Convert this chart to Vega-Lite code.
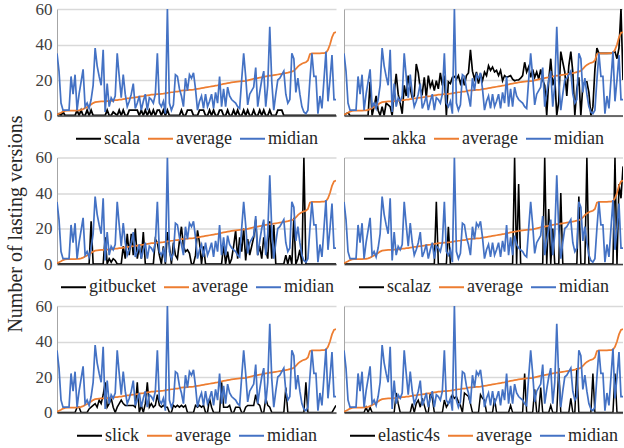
{
"$schema":"https://vega.github.io/schema/vega-lite/v6.json",
"padding":{"left":4,"top":0,"right":0,"bottom":0},
"background":"#ffffff",
"datasets":{"d":[
{"i":0,"average":0.5,"midian":35,"scala":0,"akka":0,"gitbucket":0,"scalaz":0,"slick":0,"elastic4s":0},
{"i":1,"average":1,"midian":25,"scala":1,"akka":1,"gitbucket":0,"scalaz":0,"slick":0,"elastic4s":0},
{"i":2,"average":1.5,"midian":7,"scala":0,"akka":1.5,"gitbucket":0,"scalaz":0,"slick":0,"elastic4s":0},
{"i":3,"average":2.2,"midian":3,"scala":2,"akka":0,"gitbucket":0,"scalaz":0,"slick":0,"elastic4s":0},
{"i":4,"average":2.6,"midian":3,"scala":0,"akka":0,"gitbucket":0,"scalaz":0,"slick":0,"elastic4s":0},
{"i":5,"average":2.7,"midian":3,"scala":0,"akka":0,"gitbucket":0,"scalaz":0,"slick":0,"elastic4s":0},
{"i":6,"average":2.7,"midian":3,"scala":0,"akka":0,"gitbucket":0,"scalaz":0,"slick":0,"elastic4s":0},
{"i":7,"average":2.8,"midian":22,"scala":0,"akka":0,"gitbucket":0,"scalaz":0,"slick":0,"elastic4s":0},
{"i":8,"average":2.8,"midian":12,"scala":0,"akka":0,"gitbucket":0,"scalaz":0,"slick":0,"elastic4s":0},
{"i":9,"average":2.8,"midian":23,"scala":0,"akka":0,"gitbucket":0,"scalaz":0,"slick":0,"elastic4s":0},
{"i":10,"average":2.9,"midian":3,"scala":3,"akka":0,"gitbucket":0,"scalaz":0,"slick":3,"elastic4s":0},
{"i":11,"average":2.9,"midian":12,"scala":0,"akka":0,"gitbucket":0,"scalaz":0,"slick":3,"elastic4s":3},
{"i":12,"average":3.2,"midian":19,"scala":3,"akka":0,"gitbucket":0,"scalaz":0,"slick":0,"elastic4s":0},
{"i":13,"average":3.6,"midian":26,"scala":0,"akka":19,"gitbucket":0,"scalaz":0,"slick":0,"elastic4s":3},
{"i":14,"average":4.2,"midian":5,"scala":0,"akka":0,"gitbucket":0,"scalaz":0,"slick":0,"elastic4s":0},
{"i":15,"average":4.8,"midian":7,"scala":3,"akka":5,"gitbucket":0,"scalaz":0,"slick":0,"elastic4s":0},
{"i":16,"average":5.5,"midian":4,"scala":0,"akka":11,"gitbucket":0,"scalaz":0,"slick":2,"elastic4s":0},
{"i":17,"average":6.2,"midian":9,"scala":3,"akka":3,"gitbucket":24,"scalaz":0,"slick":3,"elastic4s":0},
{"i":18,"average":7,"midian":17,"scala":0,"akka":0,"gitbucket":0,"scalaz":0,"slick":4,"elastic4s":0},
{"i":19,"average":7.5,"midian":38,"scala":0,"akka":5,"gitbucket":0,"scalaz":0,"slick":5,"elastic4s":0},
{"i":20,"average":7.7,"midian":28,"scala":0,"akka":0,"gitbucket":0,"scalaz":0,"slick":3,"elastic4s":0},
{"i":21,"average":7.8,"midian":22,"scala":0,"akka":7,"gitbucket":0,"scalaz":0,"slick":7,"elastic4s":0},
{"i":22,"average":7.9,"midian":17,"scala":0,"akka":6,"gitbucket":0,"scalaz":0,"slick":5,"elastic4s":0},
{"i":23,"average":8,"midian":37,"scala":0,"akka":5,"gitbucket":0,"scalaz":0,"slick":10,"elastic4s":0},
{"i":24,"average":8,"midian":2,"scala":0,"akka":0,"gitbucket":15,"scalaz":0,"slick":17,"elastic4s":0},
{"i":25,"average":8.1,"midian":18,"scala":3,"akka":13,"gitbucket":0,"scalaz":0,"slick":3,"elastic4s":0},
{"i":26,"average":8.2,"midian":5,"scala":0,"akka":23.5,"gitbucket":3,"scalaz":0,"slick":5,"elastic4s":11},
{"i":27,"average":8.3,"midian":10,"scala":0,"akka":12,"gitbucket":1,"scalaz":0,"slick":8,"elastic4s":5},
{"i":28,"average":8.4,"midian":8,"scala":2,"akka":7,"gitbucket":3,"scalaz":0,"slick":3,"elastic4s":0},
{"i":29,"average":8.6,"midian":11,"scala":1,"akka":1,"gitbucket":2,"scalaz":0,"slick":0,"elastic4s":0},
{"i":30,"average":8.7,"midian":35,"scala":0,"akka":17,"gitbucket":0,"scalaz":0,"slick":3,"elastic4s":0},
{"i":31,"average":8.9,"midian":22,"scala":3,"akka":11,"gitbucket":0,"scalaz":0,"slick":5,"elastic4s":0},
{"i":32,"average":9,"midian":10,"scala":0,"akka":22.5,"gitbucket":0,"scalaz":0,"slick":7,"elastic4s":0},
{"i":33,"average":9.2,"midian":23,"scala":3,"akka":15,"gitbucket":10,"scalaz":0,"slick":5,"elastic4s":0},
{"i":34,"average":9.4,"midian":12,"scala":0,"akka":10,"gitbucket":3,"scalaz":0,"slick":4,"elastic4s":5},
{"i":35,"average":9.6,"midian":5,"scala":0,"akka":11,"gitbucket":17,"scalaz":0,"slick":4,"elastic4s":0},
{"i":36,"average":9.7,"midian":8,"scala":3,"akka":29,"gitbucket":5,"scalaz":0,"slick":4,"elastic4s":5},
{"i":37,"average":9.9,"midian":12,"scala":3,"akka":24,"gitbucket":17,"scalaz":0,"slick":4,"elastic4s":7},
{"i":38,"average":10,"midian":18,"scala":3,"akka":15,"gitbucket":5,"scalaz":0,"slick":4,"elastic4s":3},
{"i":39,"average":10.2,"midian":4,"scala":3,"akka":12.5,"gitbucket":20,"scalaz":0,"slick":3,"elastic4s":8},
{"i":40,"average":10.4,"midian":7,"scala":3,"akka":21.5,"gitbucket":3,"scalaz":0,"slick":17,"elastic4s":4},
{"i":41,"average":10.6,"midian":11,"scala":0,"akka":10,"gitbucket":10,"scalaz":0,"slick":0,"elastic4s":0},
{"i":42,"average":10.8,"midian":3,"scala":3,"akka":22.5,"gitbucket":3,"scalaz":0,"slick":4,"elastic4s":0},
{"i":43,"average":10.9,"midian":8,"scala":0,"akka":16,"gitbucket":18,"scalaz":0,"slick":0,"elastic4s":11},
{"i":44,"average":11.1,"midian":12,"scala":3,"akka":19,"gitbucket":0,"scalaz":0,"slick":5,"elastic4s":8},
{"i":45,"average":11.3,"midian":3,"scala":0,"akka":14,"gitbucket":0,"scalaz":0,"slick":17,"elastic4s":0},
{"i":46,"average":11.5,"midian":10,"scala":3,"akka":19.6,"gitbucket":0,"scalaz":35,"slick":3,"elastic4s":0},
{"i":47,"average":11.7,"midian":9,"scala":0,"akka":15,"gitbucket":0,"scalaz":0,"slick":5,"elastic4s":0},
{"i":48,"average":11.8,"midian":7,"scala":3,"akka":24,"gitbucket":0,"scalaz":0,"slick":3,"elastic4s":0},
{"i":49,"average":11.9,"midian":12,"scala":0,"akka":17,"gitbucket":14,"scalaz":0,"slick":4,"elastic4s":0},
{"i":50,"average":12,"midian":35,"scala":3,"akka":22.5,"gitbucket":12,"scalaz":0,"slick":10,"elastic4s":7},
{"i":51,"average":12.1,"midian":7,"scala":3,"akka":0,"gitbucket":5,"scalaz":0,"slick":4,"elastic4s":3},
{"i":52,"average":12.2,"midian":5,"scala":0,"akka":19,"gitbucket":0,"scalaz":21,"slick":3,"elastic4s":5},
{"i":53,"average":12.3,"midian":8,"scala":3,"akka":18,"gitbucket":10,"scalaz":0,"slick":4,"elastic4s":7},
{"i":54,"average":12.5,"midian":1,"scala":0,"akka":21.5,"gitbucket":0,"scalaz":0,"slick":3,"elastic4s":10},
{"i":55,"average":12.7,"midian":60,"scala":3,"akka":22,"gitbucket":18,"scalaz":0,"slick":3,"elastic4s":8},
{"i":56,"average":12.9,"midian":7,"scala":0,"akka":20.5,"gitbucket":10,"scalaz":0,"slick":0,"elastic4s":9},
{"i":57,"average":13.1,"midian":3,"scala":0,"akka":22.5,"gitbucket":0,"scalaz":0,"slick":0,"elastic4s":6},
{"i":58,"average":13.2,"midian":6,"scala":0,"akka":18,"gitbucket":12,"scalaz":0,"slick":4,"elastic4s":4},
{"i":59,"average":13.4,"midian":23,"scala":0,"akka":21.5,"gitbucket":5,"scalaz":0,"slick":3,"elastic4s":0},
{"i":60,"average":13.5,"midian":22,"scala":0,"akka":17,"gitbucket":3,"scalaz":0,"slick":4,"elastic4s":11},
{"i":61,"average":13.7,"midian":15,"scala":0,"akka":22.5,"gitbucket":13,"scalaz":0,"slick":3,"elastic4s":10},
{"i":62,"average":14,"midian":11,"scala":3,"akka":24,"gitbucket":21,"scalaz":0,"slick":4,"elastic4s":9},
{"i":63,"average":14.1,"midian":5,"scala":0,"akka":37,"gitbucket":10,"scalaz":0,"slick":3,"elastic4s":5},
{"i":64,"average":14.2,"midian":21,"scala":0,"akka":25,"gitbucket":7,"scalaz":0,"slick":4,"elastic4s":0},
{"i":65,"average":14.3,"midian":14,"scala":3,"akka":20.5,"gitbucket":8,"scalaz":0,"slick":0,"elastic4s":0},
{"i":66,"average":14.4,"midian":23,"scala":3,"akka":24.5,"gitbucket":6,"scalaz":0,"slick":0,"elastic4s":0},
{"i":67,"average":14.5,"midian":21,"scala":3,"akka":18,"gitbucket":0,"scalaz":0,"slick":0,"elastic4s":0},
{"i":68,"average":14.6,"midian":24,"scala":0,"akka":23.5,"gitbucket":0,"scalaz":0,"slick":0,"elastic4s":10},
{"i":69,"average":14.8,"midian":15,"scala":0,"akka":19.6,"gitbucket":5,"scalaz":0,"slick":4,"elastic4s":8},
{"i":70,"average":15,"midian":3,"scala":0,"akka":24.5,"gitbucket":19,"scalaz":0,"slick":3,"elastic4s":7},
{"i":71,"average":15.2,"midian":8,"scala":3,"akka":22.5,"gitbucket":12,"scalaz":0,"slick":4,"elastic4s":0},
{"i":72,"average":15.4,"midian":11,"scala":3,"akka":28,"gitbucket":0,"scalaz":0,"slick":3,"elastic4s":0},
{"i":73,"average":15.6,"midian":4,"scala":3,"akka":25.4,"gitbucket":10,"scalaz":0,"slick":4,"elastic4s":0},
{"i":74,"average":15.8,"midian":12,"scala":0,"akka":27.3,"gitbucket":0,"scalaz":0,"slick":0,"elastic4s":0},
{"i":75,"average":16,"midian":5,"scala":0,"akka":24.5,"gitbucket":0,"scalaz":0,"slick":0,"elastic4s":8},
{"i":76,"average":16.2,"midian":8,"scala":3,"akka":25.4,"gitbucket":0,"scalaz":0,"slick":8,"elastic4s":0},
{"i":77,"average":16.4,"midian":12,"scala":0,"akka":22.5,"gitbucket":0,"scalaz":0,"slick":3,"elastic4s":0},
{"i":78,"average":16.6,"midian":4,"scala":3,"akka":25.4,"gitbucket":0,"scalaz":0,"slick":0,"elastic4s":0},
{"i":79,"average":16.8,"midian":13,"scala":0,"akka":19.6,"gitbucket":0,"scalaz":0,"slick":0,"elastic4s":0},
{"i":80,"average":17,"midian":7,"scala":0,"akka":22.5,"gitbucket":0,"scalaz":0,"slick":0,"elastic4s":0},
{"i":81,"average":17.3,"midian":22,"scala":3,"akka":21.5,"gitbucket":0,"scalaz":0,"slick":0,"elastic4s":0},
{"i":82,"average":17.5,"midian":5,"scala":3,"akka":22,"gitbucket":0,"scalaz":0,"slick":17,"elastic4s":0},
{"i":83,"average":17.8,"midian":15,"scala":0,"akka":22.5,"gitbucket":11,"scalaz":0,"slick":3,"elastic4s":4},
{"i":84,"average":18,"midian":5,"scala":0,"akka":20.5,"gitbucket":0,"scalaz":0,"slick":3,"elastic4s":0},
{"i":85,"average":18.2,"midian":16,"scala":3,"akka":19.6,"gitbucket":7,"scalaz":60,"slick":3,"elastic4s":0},
{"i":86,"average":18.4,"midian":11,"scala":0,"akka":20,"gitbucket":0,"scalaz":0,"slick":4,"elastic4s":0},
{"i":87,"average":18.6,"midian":9,"scala":0,"akka":20,"gitbucket":3,"scalaz":45,"slick":0,"elastic4s":0},
{"i":88,"average":18.8,"midian":8,"scala":3,"akka":21,"gitbucket":10,"scalaz":0,"slick":0,"elastic4s":0},
{"i":89,"average":19,"midian":7,"scala":0,"akka":22.5,"gitbucket":19,"scalaz":0,"slick":3,"elastic4s":0},
{"i":90,"average":19.1,"midian":5,"scala":3,"akka":30,"gitbucket":3,"scalaz":0,"slick":3,"elastic4s":22},
{"i":91,"average":19.2,"midian":4,"scala":0,"akka":24.5,"gitbucket":15,"scalaz":0,"slick":3,"elastic4s":0},
{"i":92,"average":19.3,"midian":20,"scala":0,"akka":27.3,"gitbucket":7,"scalaz":0,"slick":0,"elastic4s":0},
{"i":93,"average":19.4,"midian":35,"scala":3,"akka":21.5,"gitbucket":20,"scalaz":0,"slick":0,"elastic4s":0},
{"i":94,"average":19.5,"midian":22,"scala":0,"akka":26,"gitbucket":2,"scalaz":0,"slick":3,"elastic4s":0},
{"i":95,"average":19.8,"midian":6,"scala":3,"akka":21.5,"gitbucket":14,"scalaz":0,"slick":4,"elastic4s":13},
{"i":96,"average":20.1,"midian":12,"scala":0,"akka":24.5,"gitbucket":5,"scalaz":0,"slick":4,"elastic4s":0},
{"i":97,"average":20.4,"midian":14,"scala":0,"akka":20.5,"gitbucket":10,"scalaz":0,"slick":4,"elastic4s":0},
{"i":98,"average":20.7,"midian":16,"scala":3,"akka":26,"gitbucket":15,"scalaz":0,"slick":4,"elastic4s":14},
{"i":99,"average":20.9,"midian":27,"scala":0,"akka":20,"gitbucket":25,"scalaz":0,"slick":10,"elastic4s":0},
{"i":100,"average":21.1,"midian":5,"scala":0,"akka":17,"gitbucket":5,"scalaz":60,"slick":5,"elastic4s":0},
{"i":101,"average":21.3,"midian":13,"scala":3,"akka":0,"gitbucket":10,"scalaz":0,"slick":4,"elastic4s":0},
{"i":102,"average":21.5,"midian":20,"scala":0,"akka":20,"gitbucket":3,"scalaz":31,"slick":0,"elastic4s":0},
{"i":103,"average":21.7,"midian":25,"scala":3,"akka":32,"gitbucket":15,"scalaz":0,"slick":0,"elastic4s":4},
{"i":104,"average":22,"midian":5,"scala":0,"akka":17,"gitbucket":8,"scalaz":20,"slick":8,"elastic4s":0},
{"i":105,"average":22.2,"midian":17,"scala":0,"akka":21.5,"gitbucket":3,"scalaz":0,"slick":4,"elastic4s":0},
{"i":106,"average":22.4,"midian":50,"scala":3,"akka":0,"gitbucket":24,"scalaz":0,"slick":3,"elastic4s":0},
{"i":107,"average":22.5,"midian":19,"scala":0,"akka":8,"gitbucket":3,"scalaz":0,"slick":0,"elastic4s":25},
{"i":108,"average":22.7,"midian":3,"scala":0,"akka":36,"gitbucket":22,"scalaz":40,"slick":0,"elastic4s":0},
{"i":109,"average":22.9,"midian":12,"scala":0,"akka":30,"gitbucket":0,"scalaz":0,"slick":0,"elastic4s":0},
{"i":110,"average":23.1,"midian":20,"scala":3,"akka":24.5,"gitbucket":0,"scalaz":0,"slick":0,"elastic4s":0},
{"i":111,"average":23.3,"midian":21,"scala":3,"akka":11,"gitbucket":0,"scalaz":0,"slick":0,"elastic4s":0},
{"i":112,"average":23.5,"midian":23,"scala":3,"akka":28,"gitbucket":0,"scalaz":0,"slick":0,"elastic4s":0},
{"i":113,"average":23.7,"midian":25,"scala":0,"akka":36,"gitbucket":0,"scalaz":0,"slick":0,"elastic4s":8},
{"i":114,"average":23.9,"midian":12,"scala":0,"akka":24.5,"gitbucket":5,"scalaz":0,"slick":14,"elastic4s":0},
{"i":115,"average":24.1,"midian":7,"scala":0,"akka":0,"gitbucket":0,"scalaz":0,"slick":0,"elastic4s":0},
{"i":116,"average":24.4,"midian":9,"scala":0,"akka":15,"gitbucket":5,"scalaz":0,"slick":0,"elastic4s":25},
{"i":117,"average":24.7,"midian":35,"scala":0,"akka":21.5,"gitbucket":0,"scalaz":38,"slick":0,"elastic4s":0},
{"i":118,"average":25.2,"midian":32,"scala":0,"akka":0,"gitbucket":26,"scalaz":0,"slick":0,"elastic4s":0},
{"i":119,"average":26.2,"midian":13,"scala":0,"akka":17,"gitbucket":0,"scalaz":0,"slick":0,"elastic4s":0},
{"i":120,"average":27.5,"midian":21,"scala":0,"akka":19,"gitbucket":3,"scalaz":0,"slick":0,"elastic4s":0},
{"i":121,"average":28.5,"midian":12,"scala":0,"akka":19,"gitbucket":8,"scalaz":60,"slick":0,"elastic4s":0},
{"i":122,"average":29.2,"midian":5,"scala":0,"akka":13,"gitbucket":0,"scalaz":0,"slick":0,"elastic4s":0},
{"i":123,"average":29.7,"midian":2,"scala":0,"akka":0,"gitbucket":60,"scalaz":0,"slick":0,"elastic4s":0},
{"i":124,"average":30,"midian":1,"scala":0,"akka":5,"gitbucket":0,"scalaz":0,"slick":17,"elastic4s":22},
{"i":125,"average":31,"midian":3,"scala":0,"akka":26,"gitbucket":0,"scalaz":0,"slick":0,"elastic4s":0},
{"i":126,"average":34.5,"midian":20,"scala":0,"akka":38,"gitbucket":0,"scalaz":0,"slick":0,"elastic4s":0},
{"i":127,"average":35,"midian":35,"scala":0,"akka":35,"gitbucket":0,"scalaz":0,"slick":0,"elastic4s":0},
{"i":128,"average":35,"midian":22,"scala":0,"akka":35,"gitbucket":0,"scalaz":0,"slick":0,"elastic4s":0},
{"i":129,"average":35,"midian":22,"scala":0,"akka":35,"gitbucket":0,"scalaz":0,"slick":0,"elastic4s":0},
{"i":130,"average":35,"midian":1,"scala":0,"akka":35,"gitbucket":0,"scalaz":0,"slick":0,"elastic4s":0},
{"i":131,"average":35,"midian":11,"scala":0,"akka":35,"gitbucket":0,"scalaz":0,"slick":0,"elastic4s":0},
{"i":132,"average":35.1,"midian":4,"scala":0,"akka":35,"gitbucket":0,"scalaz":0,"slick":0,"elastic4s":0},
{"i":133,"average":35.2,"midian":20,"scala":0,"akka":35,"gitbucket":0,"scalaz":0,"slick":0,"elastic4s":0},
{"i":134,"average":35.4,"midian":36,"scala":0,"akka":35.5,"gitbucket":0,"scalaz":0,"slick":0,"elastic4s":0},
{"i":135,"average":37,"midian":8,"scala":0,"akka":36,"gitbucket":0,"scalaz":60,"slick":0,"elastic4s":22},
{"i":136,"average":40,"midian":20,"scala":0,"akka":32,"gitbucket":0,"scalaz":0,"slick":0,"elastic4s":0},
{"i":137,"average":44,"midian":34,"scala":0,"akka":38,"gitbucket":0,"scalaz":45,"slick":0,"elastic4s":0},
{"i":138,"average":46.5,"midian":9,"scala":0,"akka":60,"gitbucket":0,"scalaz":37,"slick":2,"elastic4s":0},
{"i":139,"average":47,"midian":9,"scala":0,"akka":20,"gitbucket":0,"scalaz":55,"slick":4,"elastic4s":0}
]},
"data":{"name":"d"},
"config":{
 "font":"Liberation Serif",
 "style":{"guide-label":{"font":"Liberation Serif"},"guide-title":{"font":"Liberation Serif"}},
 "view":{"stroke":null},
 "axis":{"labelFont":"Liberation Serif","titleFont":"Liberation Serif"},
 "axisX":{"labels":false,"ticks":false,"grid":false,"title":null,"domainColor":"#404040","domainWidth":1.5},
 "axisY":{"values":[0,20,40,60],"ticks":false,"domainColor":"#A6A6A6","domainWidth":1,"gridColor":"#D9D9D9","gridWidth":1.3,"labelFont":"Liberation Serif","labelFontSize":17,"labelColor":"#404040","labelPadding":5,"titleFont":"Liberation Serif","titleFontSize":20,"titleFontWeight":"normal","titleColor":"#262626"},
 "legend":{"orient":"bottom","direction":"horizontal","title":null,"symbolType":"stroke","symbolSize":625,"symbolStrokeWidth":2,"labelFont":"Liberation Serif","labelFontSize":18,"labelColor":"#262626","labelOffset":2,"columnPadding":4,"offset":9,"padding":0,"layout":{"bottom":{"anchor":"middle"}}}
},
"columns":2,
"spacing":{"row":41.5,"column":8},
"bounds":"flush",
"resolve":{"scale":{"color":"independent","y":"independent","x":"independent"},"legend":{"color":"independent"}},
"concat":[
{"width":279,"height":106.5,"transform":[{"fold":["scala","average","midian"],"as":["s","v"]}],"mark":{"type":"line","clip":true},
 "encoding":{"x":{"field":"i","type":"quantitative","scale":{"domain":[0,139],"nice":false,"zero":false}},
 "y":{"field":"v","type":"quantitative","scale":{"domain":[0,60]},"axis":{"title":null}},
 "color":{"field":"s","type":"nominal","scale":{"domain":["scala","average","midian"],"range":["#000000","#ED7D31","#4472C4"]}},
 "strokeWidth":{"field":"s","type":"nominal","scale":{"domain":["scala","average","midian"],"range":[1.8,1.5,1.5]},"legend":null}}},
{"width":279,"height":106.5,"transform":[{"fold":["akka","average","midian"],"as":["s","v"]}],"mark":{"type":"line","clip":true},
 "encoding":{"x":{"field":"i","type":"quantitative","scale":{"domain":[0,139],"nice":false,"zero":false}},
 "y":{"field":"v","type":"quantitative","scale":{"domain":[0,60]},"axis":{"title":null,"labels":false}},
 "color":{"field":"s","type":"nominal","scale":{"domain":["akka","average","midian"],"range":["#000000","#ED7D31","#4472C4"]}},
 "strokeWidth":{"field":"s","type":"nominal","scale":{"domain":["akka","average","midian"],"range":[1.8,1.5,1.5]},"legend":null}}},
{"width":279,"height":106.5,"transform":[{"fold":["gitbucket","average","midian"],"as":["s","v"]}],"mark":{"type":"line","clip":true},
 "encoding":{"x":{"field":"i","type":"quantitative","scale":{"domain":[0,139],"nice":false,"zero":false}},
 "y":{"field":"v","type":"quantitative","scale":{"domain":[0,60]},"axis":{"title":"Number of lasting versions","titleY":66,"titlePadding":10}},
 "color":{"field":"s","type":"nominal","scale":{"domain":["gitbucket","average","midian"],"range":["#000000","#ED7D31","#4472C4"]}},
 "strokeWidth":{"field":"s","type":"nominal","scale":{"domain":["gitbucket","average","midian"],"range":[1.8,1.5,1.5]},"legend":null}}},
{"width":279,"height":106.5,"transform":[{"fold":["scalaz","average","midian"],"as":["s","v"]}],"mark":{"type":"line","clip":true},
 "encoding":{"x":{"field":"i","type":"quantitative","scale":{"domain":[0,139],"nice":false,"zero":false}},
 "y":{"field":"v","type":"quantitative","scale":{"domain":[0,60]},"axis":{"title":null,"labels":false}},
 "color":{"field":"s","type":"nominal","scale":{"domain":["scalaz","average","midian"],"range":["#000000","#ED7D31","#4472C4"]}},
 "strokeWidth":{"field":"s","type":"nominal","scale":{"domain":["scalaz","average","midian"],"range":[1.8,1.5,1.5]},"legend":null}}},
{"width":279,"height":106.5,"transform":[{"fold":["slick","average","midian"],"as":["s","v"]}],"mark":{"type":"line","clip":true},
 "encoding":{"x":{"field":"i","type":"quantitative","scale":{"domain":[0,139],"nice":false,"zero":false}},
 "y":{"field":"v","type":"quantitative","scale":{"domain":[0,60]},"axis":{"title":null}},
 "color":{"field":"s","type":"nominal","scale":{"domain":["slick","average","midian"],"range":["#000000","#ED7D31","#4472C4"]}},
 "strokeWidth":{"field":"s","type":"nominal","scale":{"domain":["slick","average","midian"],"range":[1.8,1.5,1.5]},"legend":null}}},
{"width":279,"height":106.5,"transform":[{"fold":["elastic4s","average","midian"],"as":["s","v"]}],"mark":{"type":"line","clip":true},
 "encoding":{"x":{"field":"i","type":"quantitative","scale":{"domain":[0,139],"nice":false,"zero":false}},
 "y":{"field":"v","type":"quantitative","scale":{"domain":[0,60]},"axis":{"title":null,"labels":false}},
 "color":{"field":"s","type":"nominal","scale":{"domain":["elastic4s","average","midian"],"range":["#000000","#ED7D31","#4472C4"]}},
 "strokeWidth":{"field":"s","type":"nominal","scale":{"domain":["elastic4s","average","midian"],"range":[1.8,1.5,1.5]},"legend":null}}}
]
}
